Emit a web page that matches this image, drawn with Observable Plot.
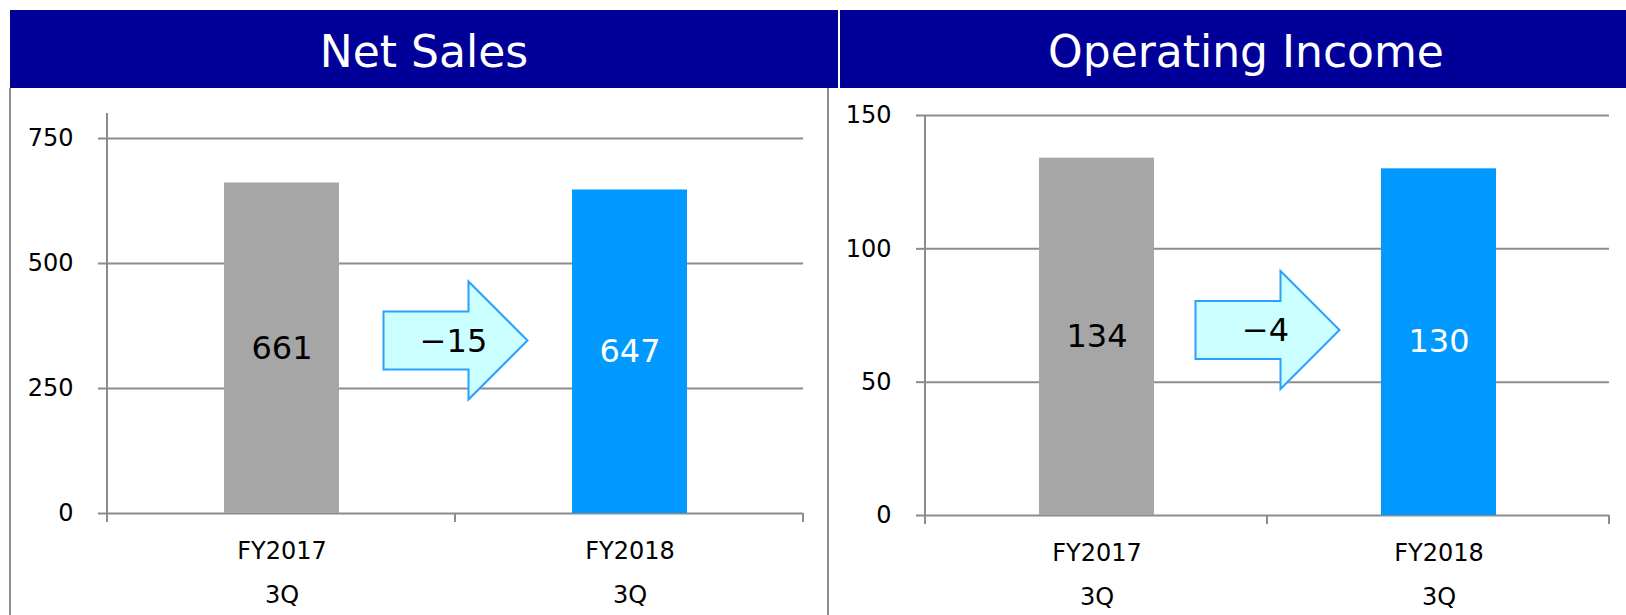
<!DOCTYPE html>
<html><head><meta charset="utf-8">
<script src="https://cdn.jsdelivr.net/npm/d3@7"></script>
<script src="https://cdn.jsdelivr.net/npm/@observablehq/plot@0.6"></script>
<style>
html,body{margin:0;padding:0;background:#fff;}
#page{position:relative;width:1626px;height:615px;overflow:hidden;font-family:"DejaVu Sans",Verdana,sans-serif;}
.hdr{position:absolute;top:10px;height:78px;background:#000099;color:#fff;font-size:44px;display:flex;align-items:center;justify-content:center;line-height:1;padding-top:5px;box-sizing:border-box;white-space:nowrap;}
.vline{position:absolute;top:88px;height:527px;width:2px;background:#8f8f8f;}
.plot{position:absolute;top:88px;height:527px;}
</style></head><body>
<div id="page">
  <div class="hdr" style="left:10px;width:828px">Net Sales</div>
  <div class="hdr" style="left:840px;width:812px">Operating Income</div>
  <div class="vline" style="left:9px"></div>
  <div class="vline" style="left:827px"></div>
  <div class="plot" id="p1" style="left:10px;width:818px"></div>
  <div class="plot" id="p2" style="left:828px;width:798px"></div>
</div>
<script>
// ---- data ----
const categories = ["FY2017\n3Q", "FY2018\n3Q"];
const netSales = [661, 647];
const operatingIncome = [134, 130];
const netSalesChange = -15;
const operatingIncomeChange = -4;
const netSalesTicks = [0, 250, 500, 750];
const operatingIncomeTicks = [0, 50, 100, 150];

// ---- styles / layout ----
const barColors = ["#A6A6A6", "#0099FF"];
const labelColors = ["#000000", "#FFFFFF"];
const gridColor = "#8c8c8c";
const fmtChange = v => (v < 0 ? "\u2212" : "+") + Math.abs(v);

const panels = [
  {el: "#p1", values: netSales, change: netSalesChange, ticks: netSalesTicks, yMax: 800,
   width: 818, marginRight: 25, marginTop: 25, marginBottom: 102, pi: 0.67},
  {el: "#p2", values: operatingIncome, change: operatingIncomeChange, ticks: operatingIncomeTicks, yMax: 150,
   width: 798, marginRight: 17, marginTop: 27, marginBottom: 100, pi: 0.664}
];

function arrowMark(p) {
  return (index, scales, values, dims) => {
    const x = scales.x, y = scales.y;
    let cx;
    if (x && x.bandwidth) {
      cx = (x(categories[0]) + x(categories[1]) + x.bandwidth()) / 2;
    } else {
      cx = (dims.marginLeft + dims.width - dims.marginRight) / 2;
    }
    const cy = y(d3.mean(p.values) / 2) - 9;
    const W = 144, HL = 59, BH = 58, HH = 118;
    const L = cx - W / 2;
    const pts = [
      [L, cy - BH / 2], [L + W - HL, cy - BH / 2], [L + W - HL, cy - HH / 2], [L + W, cy],
      [L + W - HL, cy + HH / 2], [L + W - HL, cy + BH / 2], [L, cy + BH / 2]
    ];
    const g = d3.create("svg:g");
    g.append("path")
      .attr("d", "M" + pts.map(q => q.join(",")).join("L") + "Z")
      .attr("fill", "#CCFFFF").attr("stroke", "#2AA0FF").attr("stroke-width", 2)
      .attr("stroke-linejoin", "miter");
    g.append("text")
      .attr("x", cx - 2).attr("y", cy).attr("dy", "0.35em")
      .attr("text-anchor", "middle")
      .style("font-size", "32px").attr("fill", "#000")
      .text(fmtChange(p.change));
    return g.node();
  };
}

function draw(p) {
  const data = categories.map((c, i) => ({cat: c, value: p.values[i], idx: i}));
  const plot = Plot.plot({
    width: p.width, height: 527,
    marginLeft: 97, marginRight: p.marginRight, marginTop: p.marginTop, marginBottom: p.marginBottom,
    style: {fontFamily: "'DejaVu Sans', Verdana, sans-serif", background: "transparent", overflow: "visible", color: "#000"},
    x: {domain: categories, paddingInner: p.pi, paddingOuter: p.pi / 2, label: null},
    y: {domain: [0, p.yMax], label: null},
    color: {type: "identity"},
    marks: [
      Plot.ruleY(p.ticks, {stroke: gridColor, strokeWidth: 2}),
      Plot.barY(data, {x: "cat", y: "value", fill: d => barColors[d.idx]}),
      Plot.text(data, {x: "cat", y: d => d.value / 2, text: d => String(d.value), fill: d => labelColors[d.idx], fontSize: 32}),
      Plot.axisY({ticks: p.ticks, tickSize: 9, tickFormat: () => "", stroke: gridColor, strokeWidth: 2, label: null}),
      Plot.text(p.ticks, {y: d => d, frameAnchor: "left", dx: -34, textAnchor: "end", text: d => String(d), fontSize: 24, fill: "#000"}),
      Plot.axisX({tickSize: 0, tickPadding: 14, fontSize: 24, lineHeight: 1.85, fill: "#000", label: null}),
      arrowMark(p)
    ]
  });
  // Excel-style axis line and category boundary ticks, from the plot's scales
  const sx = plot.scale("x"), sy = plot.scale("y");
  const [x0, x1] = sx.range;
  const [yb, yt] = sy.range;
  const svg = d3.select(plot);
  const n = categories.length;
  const bounds = d3.range(n + 1).map(i => x0 + i * (x1 - x0) / n);
  svg.append("g").attr("stroke", gridColor).attr("stroke-width", 2)
    .selectAll("line").data(bounds).join("line")
    .attr("x1", d => d).attr("x2", d => d).attr("y1", yb).attr("y2", yb + 9);
  svg.append("line").attr("stroke", gridColor).attr("stroke-width", 2)
    .attr("x1", x0).attr("x2", x0).attr("y1", Math.min(yb, yt)).attr("y2", yb + 9);
  document.querySelector(p.el).appendChild(plot);
}
panels.forEach(draw);
</script>
</body></html>
